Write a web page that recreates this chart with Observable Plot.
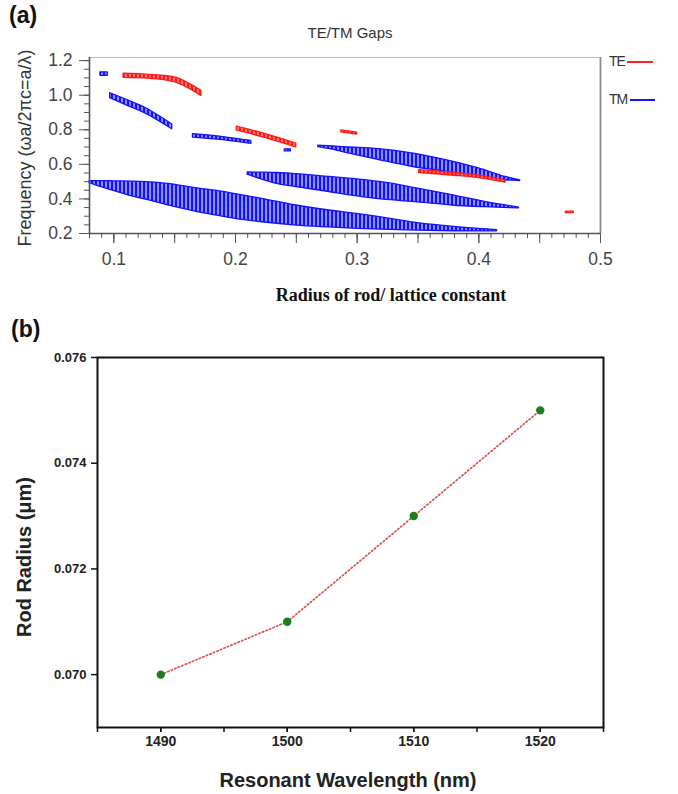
<!DOCTYPE html>
<html>
<head>
<meta charset="utf-8">
<script src="https://cdn.jsdelivr.net/npm/d3@7"></script>
<script src="https://cdn.jsdelivr.net/npm/@observablehq/plot@0.6"></script>
<style>
  html, body { margin: 0; padding: 0; background: #fff; }
  #wrap { position: relative; width: 678px; height: 794px; overflow: hidden; background: #fff;
          font-family: "Liberation Sans", Arial, sans-serif; }
  .abs { position: absolute; white-space: nowrap; }
  .rot { transform: translate(-50%, -50%) rotate(-90deg); }
  .ctr { transform: translate(-50%, -50%); }
</style>
</head>
<body>
<div id="wrap">
  <svg width="0" height="0" style="position:absolute">
    <defs>
      <pattern id="tmHatch" patternUnits="userSpaceOnUse" width="4" height="4">
        <rect width="4" height="4" fill="#1212ff"></rect>
        <rect x="1.3" width="1.5" height="4" fill="#b4b4ff"></rect>
      </pattern>
      <pattern id="teHatch" patternUnits="userSpaceOnUse" width="4" height="4">
        <rect width="4" height="4" fill="#ff1a1a"></rect>
        <rect x="1.3" width="1.4" height="4" fill="#ff9a9a"></rect>
      </pattern>
    </defs>
  </svg>
  <div id="pa" class="abs" style="left:0;top:0"></div>
  <div id="pb" class="abs" style="left:0;top:310px"></div>

  <div class="abs" style="left:9px;top:2px;font-size:23px;font-weight:bold;color:#111">(a)</div>
  <div class="abs ctr" style="left:350px;top:32px;font-size:15px;color:#333">TE/TM Gaps</div>
  <div class="abs rot" style="left:25px;top:148px;font-size:18px;color:#333">Frequency (ωa/2πc=a/λ)</div>
  <div class="abs ctr" style="left:391px;top:295px;font-size:18px;font-weight:bold;color:#111;font-family:'Liberation Serif','Times New Roman',serif">Radius of rod/ lattice constant</div>
  <div class="abs" style="left:609px;top:53px;font-size:14px;color:#333;letter-spacing:-1px">TE</div>
  <div class="abs" style="left:627px;top:61px;width:26px;height:2px;background:#ff2020"></div>
  <div class="abs" style="left:609px;top:91px;font-size:14px;color:#333;letter-spacing:-1px">TM</div>
  <div class="abs" style="left:630px;top:99px;width:25px;height:2px;background:#1414ff"></div>

  <div class="abs" style="left:11px;top:316px;font-size:23px;font-weight:bold;color:#111">(b)</div>
  <div class="abs rot" style="left:24px;top:557px;font-size:20px;font-weight:bold;color:#222">Rod Radius (μm)</div>
  <div class="abs ctr" style="left:348px;top:780px;font-size:20px;font-weight:bold;color:#222">Resonant Wavelength (nm)</div>
</div>
<script>
// ---------- Panel (a): photonic band gaps, [radius r/a, lower freq, upper freq] ----------
const tmGapLowest = [
  [0.080, 0.492, 0.503], [0.090, 0.468, 0.503], [0.100, 0.446, 0.502], [0.115, 0.415, 0.500],
  [0.130, 0.390, 0.496], [0.145, 0.362, 0.487], [0.157, 0.343, 0.474], [0.170, 0.322, 0.460],
  [0.185, 0.303, 0.446], [0.200, 0.285, 0.428], [0.222, 0.265, 0.400], [0.250, 0.246, 0.362],
  [0.277, 0.235, 0.333], [0.300, 0.227, 0.313], [0.320, 0.222, 0.293], [0.350, 0.217, 0.260],
  [0.380, 0.213, 0.238], [0.400, 0.212, 0.227], [0.415, 0.213, 0.220]
];
const tmGapMiddle = [
  [0.210, 0.540, 0.553], [0.222, 0.512, 0.552], [0.235, 0.485, 0.550], [0.250, 0.469, 0.543],
  [0.277, 0.440, 0.527], [0.300, 0.415, 0.513], [0.320, 0.397, 0.497], [0.350, 0.380, 0.460],
  [0.378, 0.362, 0.422], [0.405, 0.352, 0.383], [0.433, 0.345, 0.350]
];
const tmGapUpper = [
  [0.268, 0.700, 0.708], [0.280, 0.685, 0.704], [0.290, 0.668, 0.699], [0.318, 0.625, 0.688],
  [0.345, 0.586, 0.664], [0.373, 0.557, 0.625], [0.400, 0.527, 0.577], [0.422, 0.508, 0.527],
  [0.434, 0.503, 0.507]
];
const tmGapHighA = [[0.097, 0.983, 1.012], [0.110, 0.943, 0.975], [0.125, 0.898, 0.930], [0.148, 0.803, 0.830]];
const tmGapHighB = [[0.165, 0.755, 0.775], [0.190, 0.740, 0.758], [0.213, 0.718, 0.735]];
const tmGapDotTop = [[0.089, 1.112, 1.132], [0.095, 1.112, 1.132]];
const tmGapDotMid = [[0.2405, 0.675, 0.687], [0.2455, 0.675, 0.687]];

const teGapTop = [[0.108, 1.100, 1.125], [0.130, 1.095, 1.118], [0.150, 1.075, 1.103], [0.160, 1.045, 1.075], [0.172, 0.995, 1.025]];
const teGapMid = [[0.201, 0.796, 0.818], [0.225, 0.752, 0.775], [0.250, 0.698, 0.720]];
const teGapSmall = [[0.287, 0.785, 0.797], [0.300, 0.772, 0.784]];
const teGapLow = [[0.351, 0.550, 0.566], [0.380, 0.534, 0.550], [0.400, 0.520, 0.535], [0.422, 0.494, 0.509]];
const teGapTiny = [[0.4715, 0.318, 0.326], [0.478, 0.318, 0.326]];

const xTicksA = [0.1, 0.2, 0.3, 0.4, 0.5];
const yTicksA = [0.2, 0.4, 0.6, 0.8, 1.0, 1.2];

// ---------- Panel (b): resonant wavelength vs rod radius ----------
const wavelengths = [1490, 1500, 1510, 1520];
const rodRadii = [0.070, 0.071, 0.073, 0.075];
const xTicksB = [1490, 1500, 1510, 1520];
const yTicksB = [0.070, 0.072, 0.074, 0.076];

function rows(name, arr) { return arr.map(([r, lo, hi]) => ({band: name, r, lo, hi})); }
const tmData = [
  ...rows("low", tmGapLowest), ...rows("mid", tmGapMiddle), ...rows("up", tmGapUpper),
  ...rows("hA", tmGapHighA), ...rows("hB", tmGapHighB), ...rows("dT", tmGapDotTop), ...rows("dM", tmGapDotMid)
];
const teData = [
  ...rows("top", teGapTop), ...rows("mid", teGapMid), ...rows("sm", teGapSmall),
  ...rows("low", teGapLow), ...rows("tiny", teGapTiny)
];

const yTopA = 1.218;
const plotA = Plot.plot({
  width: 678, height: 310,
  marginLeft: 89, marginRight: 78, marginTop: 57, marginBottom: 77,
  x: {domain: [0.08, 0.5], label: null},
  y: {domain: [0.2, yTopA], label: null},
  style: {fontFamily: "'Liberation Sans', Arial, sans-serif", fontSize: "17.5px", color: "#444", background: "transparent"},
  marks: [
    Plot.areaY(tmData, {x: "r", y1: "lo", y2: "hi", z: "band", curve: "monotone-x",
      fill: "url(#tmHatch)", stroke: "#1212ff", strokeWidth: 1.3}),
    Plot.areaY(teData, {x: "r", y1: "lo", y2: "hi", z: "band", curve: "monotone-x",
      fill: "url(#teHatch)", stroke: "#ff1a1a", strokeWidth: 1.3}),
    Plot.ruleY([yTopA], {stroke: "#bbb", strokeWidth: 1}),
    Plot.ruleX([0.5], {stroke: "#8a8a8a", strokeWidth: 1.8}),
    Plot.ruleX([0.08], {stroke: "#555", strokeWidth: 1.6}),
    Plot.ruleY([0.2], {stroke: "#555", strokeWidth: 1.6}),
    Plot.axisX(d3.range(0.08, 0.5001, 0.01), {tickSize: 5, fill: "none", stroke: "#555", label: null}),
    Plot.axisX(d3.range(0.1, 0.5001, 0.05), {tickSize: 10, fill: "none", stroke: "#555", label: null}),
    Plot.axisX(xTicksA, {tickSize: 10, tickPadding: 9, tickFormat: ".1f", stroke: "#555", fill: "#444", label: null}),
    Plot.axisY(d3.range(0.2, 1.2001, 0.05), {tickSize: 5, fill: "none", stroke: "#555", label: null}),
    Plot.axisY(yTicksA, {tickSize: 10, tickPadding: 7, tickFormat: ".1f", stroke: "#555", fill: "#444", label: null})
  ]
});
document.getElementById("pa").appendChild(plotA);

const dataB = wavelengths.map((w, i) => ({w, r: rodRadii[i]}));
const plotB = Plot.plot({
  width: 678, height: 484,
  marginLeft: 97, marginRight: 75, marginTop: 47, marginBottom: 67,
  x: {domain: [1485, 1525], label: null},
  y: {domain: [0.069, 0.076], label: null},
  style: {fontFamily: "'Liberation Sans', Arial, sans-serif", fontSize: "14px", fontWeight: "bold", color: "#222", background: "transparent"},
  marks: [
    Plot.frame({stroke: "#111", strokeWidth: 2}),
    Plot.axisX(d3.range(1485, 1525.1, 5), {tickSize: 5, fill: "none", stroke: "#111", strokeWidth: 1.5, label: null}),
    Plot.axisX(xTicksB, {tickSize: 5, tickPadding: 4, tickFormat: "d", stroke: "#111", strokeWidth: 1.5, fill: "#222", label: null}),
    Plot.axisY(yTicksB, {tickSize: 6, tickPadding: 5, tickFormat: ".3f", stroke: "#111", strokeWidth: 1.5, fill: "#222", fontSize: 13, label: null}),
    Plot.line(dataB, {x: "w", y: "r", stroke: "#dd5050", strokeWidth: 1.7, strokeDasharray: "1.4,2.4", strokeLinecap: "round"}),
    Plot.dot(dataB, {x: "w", y: "r", r: 4.2, fill: "#1c7f1c", stroke: "none"})
  ]
});
document.getElementById("pb").appendChild(plotB);
</script>
</body>
</html>
